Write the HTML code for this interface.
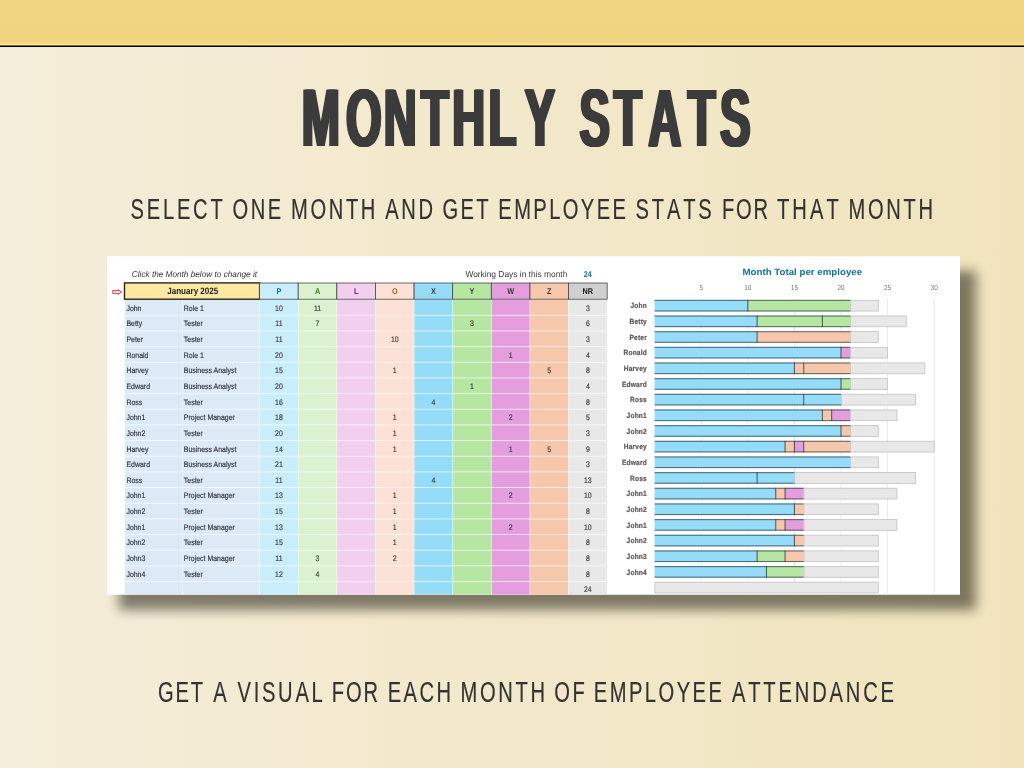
<!DOCTYPE html>
<html lang="en">
<head>
<meta charset="utf-8">
<title>Monthly Stats</title>
<style>
html,body{margin:0;padding:0;}
body{width:1024px;height:768px;overflow:hidden;position:relative;
 background:linear-gradient(90deg,#F4EDD9 0%,#F2E8CA 50%,#F1E4BD 100%);
 font-family:"Liberation Sans",sans-serif;}
.band{position:absolute;left:0;top:0;width:1024px;height:45px;background:linear-gradient(180deg,#F1D582 0px,#F0D480 42px,#F8DC89 43.5px,#FCE18D 45px);}
.rule{position:absolute;left:0;top:45px;width:1024px;height:2px;background:linear-gradient(180deg,#7d6f42 0,#7d6f42 1px,#000 1px,#000 2px);}
.heads{position:absolute;left:0;top:0;display:block;font-family:"Liberation Sans",sans-serif;font-kerning:none;}
.shadow{position:absolute;left:118.5px;top:271px;width:857.5px;height:339px;background:rgba(12,10,0,.5);filter:blur(6px);}
.panel{position:absolute;display:block;}
</style>
</head>
<body>
<div class="band"></div>
<div class="rule"></div>
<svg class="heads" width="1024" height="768" viewBox="0 0 1024 768">
<text class="title" transform="translate(0 146) scale(0.5613 1)" x="537.73 616.76 683.66 749.97 805.78 870.64 934.82 964.82 1032.36 1093.73 1155.1 1225.3 1283.05" y="0" font-size="81" font-weight="700" fill="#3b3b3b" style="text-shadow:2.27px 0 0 #3b3b3b,-2.27px 0 0 #3b3b3b,1.14px 0 0 #3b3b3b,-1.14px 0 0 #3b3b3b">MONTHLY STATS</text>
<text class="line" transform="translate(0 218.9) scale(0.7 1)" x="186.39 209.56 232.73 252.71 275.88 300.64 319.23 332.22 358.21 382.6 402.81 415.64 443.41 469.59 494.17 515.54 537.34 550.23 573.33 598.02 619.82 632.27 657.84 680.21 698.8 711.92 734.54 761.94 784.56 803.98 829.79 852.41 875.03 895.24 907.96 931.2 952.82 976.06 997.69 1017.9 1031.35 1051.55 1076.56 1098.36 1109.94 1131.9 1157.06 1180.64 1199.23 1212.07 1239.91 1266.16 1290.81 1312.25" y="0" font-size="28.8" fill="#333" stroke="#333" stroke-width="0.18">SELECT ONE MONTH AND GET EMPLOYEE STATS FOR THAT MONTH</text>
<text class="line" transform="translate(0 702.3) scale(0.7 1)" x="225.56 250.55 272.35 290.94 304.75 324.96 339.28 362.37 374.24 397.33 422 445.08 462.1 474.07 494.34 519.42 541.22 553.78 576.55 599.32 623.68 645.48 657.92 685.69 711.88 736.45 757.82 779.62 791.93 817.84 836.43 848.21 870.95 898.47 921.21 940.76 966.69 989.43 1012.17 1032.38 1045.66 1068.89 1090.51 1112.12 1135.36 1160.18 1185.01 1208.24 1233.06 1257.89" y="0" font-size="28.8" fill="#333" stroke="#333" stroke-width="0.18">GET A VISUAL FOR EACH MONTH OF EMPLOYEE ATTENDANCE</text>
</svg>
<div class="shadow"></div>
<svg class="panel" width="880" height="360" viewBox="100 250 880 360" style="left:100px;top:250px">
<rect x="107" y="256.5" width="853" height="338" fill="#fff"/>
<defs><filter id="soft" x="107" y="256.5" width="853" height="338" filterUnits="userSpaceOnUse" color-interpolation-filters="sRGB"><feGaussianBlur stdDeviation="0.35"/></filter></defs>
<g filter="url(#soft)" text-rendering="geometricPrecision">
<rect x="107" y="256.5" width="853" height="338" fill="#fff"/>
<rect x="124.9" y="299.6" width="134.7" height="294.9" fill="#DCEAF7"/>
<rect x="259.6" y="299.6" width="38.62" height="294.9" fill="#CAEDFB"/>
<rect x="298.22" y="299.6" width="38.62" height="294.9" fill="#DAF2D0"/>
<rect x="336.84" y="299.6" width="38.62" height="294.9" fill="#F2CEEF"/>
<rect x="375.46" y="299.6" width="38.62" height="294.9" fill="#FBE2D5"/>
<rect x="414.08" y="299.6" width="38.62" height="294.9" fill="#94DCF8"/>
<rect x="452.7" y="299.6" width="38.62" height="294.9" fill="#B5E6A2"/>
<rect x="491.32" y="299.6" width="38.62" height="294.9" fill="#E49EDD"/>
<rect x="529.94" y="299.6" width="38.62" height="294.9" fill="#F7C7AC"/>
<rect x="568.56" y="299.6" width="38.62" height="294.9" fill="#E8E8E8"/>
<rect x="124.9" y="314.85" width="482.28" height="0.9" fill="#fff" opacity="0.75"/>
<rect x="124.9" y="330.51" width="482.28" height="0.9" fill="#fff" opacity="0.75"/>
<rect x="124.9" y="346.17" width="482.28" height="0.9" fill="#fff" opacity="0.75"/>
<rect x="124.9" y="361.83" width="482.28" height="0.9" fill="#fff" opacity="0.75"/>
<rect x="124.9" y="377.49" width="482.28" height="0.9" fill="#fff" opacity="0.75"/>
<rect x="124.9" y="393.15" width="482.28" height="0.9" fill="#fff" opacity="0.75"/>
<rect x="124.9" y="408.81" width="482.28" height="0.9" fill="#fff" opacity="0.75"/>
<rect x="124.9" y="424.47" width="482.28" height="0.9" fill="#fff" opacity="0.75"/>
<rect x="124.9" y="440.13" width="482.28" height="0.9" fill="#fff" opacity="0.75"/>
<rect x="124.9" y="455.79" width="482.28" height="0.9" fill="#fff" opacity="0.75"/>
<rect x="124.9" y="471.45" width="482.28" height="0.9" fill="#fff" opacity="0.75"/>
<rect x="124.9" y="487.11" width="482.28" height="0.9" fill="#fff" opacity="0.75"/>
<rect x="124.9" y="502.77" width="482.28" height="0.9" fill="#fff" opacity="0.75"/>
<rect x="124.9" y="518.43" width="482.28" height="0.9" fill="#fff" opacity="0.75"/>
<rect x="124.9" y="534.09" width="482.28" height="0.9" fill="#fff" opacity="0.75"/>
<rect x="124.9" y="549.75" width="482.28" height="0.9" fill="#fff" opacity="0.75"/>
<rect x="124.9" y="565.41" width="482.28" height="0.9" fill="#fff" opacity="0.75"/>
<rect x="124.9" y="581.07" width="482.28" height="0.9" fill="#fff" opacity="0.75"/>
<rect x="181.9" y="299.6" width="0.8" height="294.9" fill="#fff" opacity="0.6"/>
<rect x="259.2" y="299.6" width="0.8" height="294.9" fill="#fff" opacity="0.6"/>
<rect x="297.82" y="299.6" width="0.8" height="294.9" fill="#fff" opacity="0.6"/>
<rect x="336.44" y="299.6" width="0.8" height="294.9" fill="#fff" opacity="0.6"/>
<rect x="375.06" y="299.6" width="0.8" height="294.9" fill="#fff" opacity="0.6"/>
<rect x="413.68" y="299.6" width="0.8" height="294.9" fill="#fff" opacity="0.6"/>
<rect x="452.3" y="299.6" width="0.8" height="294.9" fill="#fff" opacity="0.6"/>
<rect x="490.92" y="299.6" width="0.8" height="294.9" fill="#fff" opacity="0.6"/>
<rect x="529.54" y="299.6" width="0.8" height="294.9" fill="#fff" opacity="0.6"/>
<rect x="568.16" y="299.6" width="0.8" height="294.9" fill="#fff" opacity="0.6"/>
<rect x="124.5" y="282.9" width="135.1" height="16.3" fill="#FFE8A2" stroke="#2b2618" stroke-width="1.4"/>
<rect x="259.6" y="283" width="38.62" height="16.2" fill="#CAEDFB" stroke="#484848" stroke-width="0.8"/>
<rect x="298.22" y="283" width="38.62" height="16.2" fill="#DAF2D0" stroke="#484848" stroke-width="0.8"/>
<rect x="336.84" y="283" width="38.62" height="16.2" fill="#F2CEEF" stroke="#484848" stroke-width="0.8"/>
<rect x="375.46" y="283" width="38.62" height="16.2" fill="#FBE2D5" stroke="#484848" stroke-width="0.8"/>
<rect x="414.08" y="283" width="38.62" height="16.2" fill="#94DCF8" stroke="#484848" stroke-width="0.8"/>
<rect x="452.7" y="283" width="38.62" height="16.2" fill="#B5E6A2" stroke="#484848" stroke-width="0.8"/>
<rect x="491.32" y="283" width="38.62" height="16.2" fill="#E49EDD" stroke="#484848" stroke-width="0.8"/>
<rect x="529.94" y="283" width="38.62" height="16.2" fill="#F7C7AC" stroke="#484848" stroke-width="0.8"/>
<rect x="568.56" y="283" width="38.62" height="16.2" fill="#D0D0D0" stroke="#484848" stroke-width="0.8"/>
<g font-family="'Liberation Sans', sans-serif" stroke-width="1.6" paint-order="stroke">
<text transform="translate(131.8 276.7) scale(0.0967 0.1)" font-size="85" text-anchor="start" fill="#333" font-weight="400" font-style="italic">Click the Month below to change it</text>
<text transform="translate(465.4 276.6) scale(0.0975 0.1)" font-size="86" text-anchor="start" fill="#3a3a3a" font-weight="400">Working Days in this month</text>
<text transform="translate(587.7 276.6) scale(0.0870 0.1)" font-size="84" text-anchor="middle" fill="#0B76A0" font-weight="700">24</text>
<text transform="translate(192.75 294.4) scale(0.0867 0.1)" font-size="93" text-anchor="middle" fill="#222" font-weight="700">January 2025</text>
<text transform="translate(278.91 294.4) scale(0.0870 0.1)" font-size="84" text-anchor="middle" fill="#0B76A0" font-weight="700">P</text>
<text transform="translate(317.53 294.4) scale(0.0870 0.1)" font-size="84" text-anchor="middle" fill="#3A7C22" font-weight="700">A</text>
<text transform="translate(356.15 294.4) scale(0.0870 0.1)" font-size="84" text-anchor="middle" fill="#782170" font-weight="700">L</text>
<text transform="translate(394.77 294.4) scale(0.0870 0.1)" font-size="84" text-anchor="middle" fill="#BE5014" font-weight="700">O</text>
<text transform="translate(433.39 294.4) scale(0.0870 0.1)" font-size="84" text-anchor="middle" fill="#3a3a3a" font-weight="700">X</text>
<text transform="translate(472.01 294.4) scale(0.0870 0.1)" font-size="84" text-anchor="middle" fill="#3a3a3a" font-weight="700">Y</text>
<text transform="translate(510.63 294.4) scale(0.0870 0.1)" font-size="84" text-anchor="middle" fill="#3a3a3a" font-weight="700">W</text>
<text transform="translate(549.25 294.4) scale(0.0870 0.1)" font-size="84" text-anchor="middle" fill="#3a3a3a" font-weight="700">Z</text>
<text transform="translate(587.87 294.4) scale(0.0870 0.1)" font-size="84" text-anchor="middle" fill="#111" font-weight="700">NR</text>
<text transform="translate(126.4 310.6) scale(0.0870 0.1)" font-size="80" text-anchor="start" fill="#30303a" font-weight="400" stroke="#30303a">John</text>
<text transform="translate(183.8 310.6) scale(0.0870 0.1)" font-size="80" text-anchor="start" fill="#30303a" font-weight="400" stroke="#30303a">Role 1</text>
<text transform="translate(278.91 310.6) scale(0.0870 0.1)" font-size="80" text-anchor="middle" fill="#3a3a3a" font-weight="400" stroke="#3a3a3a">10</text>
<text transform="translate(317.53 310.6) scale(0.0870 0.1)" font-size="80" text-anchor="middle" fill="#3a3a3a" font-weight="400" stroke="#3a3a3a">11</text>
<text transform="translate(587.87 310.6) scale(0.0870 0.1)" font-size="80" text-anchor="middle" fill="#3a3a3a" font-weight="400" stroke="#3a3a3a">3</text>
<text transform="translate(126.4 326.25) scale(0.0870 0.1)" font-size="80" text-anchor="start" fill="#30303a" font-weight="400" stroke="#30303a">Betty</text>
<text transform="translate(183.8 326.25) scale(0.0870 0.1)" font-size="80" text-anchor="start" fill="#30303a" font-weight="400" stroke="#30303a">Tester</text>
<text transform="translate(278.91 326.25) scale(0.0870 0.1)" font-size="80" text-anchor="middle" fill="#3a3a3a" font-weight="400" stroke="#3a3a3a">11</text>
<text transform="translate(317.53 326.25) scale(0.0870 0.1)" font-size="80" text-anchor="middle" fill="#3a3a3a" font-weight="400" stroke="#3a3a3a">7</text>
<text transform="translate(472.01 326.25) scale(0.0870 0.1)" font-size="80" text-anchor="middle" fill="#3a3a3a" font-weight="400" stroke="#3a3a3a">3</text>
<text transform="translate(587.87 326.25) scale(0.0870 0.1)" font-size="80" text-anchor="middle" fill="#3a3a3a" font-weight="400" stroke="#3a3a3a">6</text>
<text transform="translate(126.4 341.91) scale(0.0870 0.1)" font-size="80" text-anchor="start" fill="#30303a" font-weight="400" stroke="#30303a">Peter</text>
<text transform="translate(183.8 341.91) scale(0.0870 0.1)" font-size="80" text-anchor="start" fill="#30303a" font-weight="400" stroke="#30303a">Tester</text>
<text transform="translate(278.91 341.91) scale(0.0870 0.1)" font-size="80" text-anchor="middle" fill="#3a3a3a" font-weight="400" stroke="#3a3a3a">11</text>
<text transform="translate(394.77 341.91) scale(0.0870 0.1)" font-size="80" text-anchor="middle" fill="#3a3a3a" font-weight="400" stroke="#3a3a3a">10</text>
<text transform="translate(587.87 341.91) scale(0.0870 0.1)" font-size="80" text-anchor="middle" fill="#3a3a3a" font-weight="400" stroke="#3a3a3a">3</text>
<text transform="translate(126.4 357.56) scale(0.0870 0.1)" font-size="80" text-anchor="start" fill="#30303a" font-weight="400" stroke="#30303a">Ronald</text>
<text transform="translate(183.8 357.56) scale(0.0870 0.1)" font-size="80" text-anchor="start" fill="#30303a" font-weight="400" stroke="#30303a">Role 1</text>
<text transform="translate(278.91 357.56) scale(0.0870 0.1)" font-size="80" text-anchor="middle" fill="#3a3a3a" font-weight="400" stroke="#3a3a3a">20</text>
<text transform="translate(510.63 357.56) scale(0.0870 0.1)" font-size="80" text-anchor="middle" fill="#3a3a3a" font-weight="400" stroke="#3a3a3a">1</text>
<text transform="translate(587.87 357.56) scale(0.0870 0.1)" font-size="80" text-anchor="middle" fill="#3a3a3a" font-weight="400" stroke="#3a3a3a">4</text>
<text transform="translate(126.4 373.22) scale(0.0870 0.1)" font-size="80" text-anchor="start" fill="#30303a" font-weight="400" stroke="#30303a">Harvey</text>
<text transform="translate(183.8 373.22) scale(0.0870 0.1)" font-size="80" text-anchor="start" fill="#30303a" font-weight="400" stroke="#30303a">Business Analyst</text>
<text transform="translate(278.91 373.22) scale(0.0870 0.1)" font-size="80" text-anchor="middle" fill="#3a3a3a" font-weight="400" stroke="#3a3a3a">15</text>
<text transform="translate(394.77 373.22) scale(0.0870 0.1)" font-size="80" text-anchor="middle" fill="#3a3a3a" font-weight="400" stroke="#3a3a3a">1</text>
<text transform="translate(549.25 373.22) scale(0.0870 0.1)" font-size="80" text-anchor="middle" fill="#3a3a3a" font-weight="400" stroke="#3a3a3a">5</text>
<text transform="translate(587.87 373.22) scale(0.0870 0.1)" font-size="80" text-anchor="middle" fill="#3a3a3a" font-weight="400" stroke="#3a3a3a">8</text>
<text transform="translate(126.4 388.88) scale(0.0870 0.1)" font-size="80" text-anchor="start" fill="#30303a" font-weight="400" stroke="#30303a">Edward</text>
<text transform="translate(183.8 388.88) scale(0.0870 0.1)" font-size="80" text-anchor="start" fill="#30303a" font-weight="400" stroke="#30303a">Business Analyst</text>
<text transform="translate(278.91 388.88) scale(0.0870 0.1)" font-size="80" text-anchor="middle" fill="#3a3a3a" font-weight="400" stroke="#3a3a3a">20</text>
<text transform="translate(472.01 388.88) scale(0.0870 0.1)" font-size="80" text-anchor="middle" fill="#3a3a3a" font-weight="400" stroke="#3a3a3a">1</text>
<text transform="translate(587.87 388.88) scale(0.0870 0.1)" font-size="80" text-anchor="middle" fill="#3a3a3a" font-weight="400" stroke="#3a3a3a">4</text>
<text transform="translate(126.4 404.53) scale(0.0870 0.1)" font-size="80" text-anchor="start" fill="#30303a" font-weight="400" stroke="#30303a">Ross</text>
<text transform="translate(183.8 404.53) scale(0.0870 0.1)" font-size="80" text-anchor="start" fill="#30303a" font-weight="400" stroke="#30303a">Tester</text>
<text transform="translate(278.91 404.53) scale(0.0870 0.1)" font-size="80" text-anchor="middle" fill="#3a3a3a" font-weight="400" stroke="#3a3a3a">16</text>
<text transform="translate(433.39 404.53) scale(0.0870 0.1)" font-size="80" text-anchor="middle" fill="#3a3a3a" font-weight="400" stroke="#3a3a3a">4</text>
<text transform="translate(587.87 404.53) scale(0.0870 0.1)" font-size="80" text-anchor="middle" fill="#3a3a3a" font-weight="400" stroke="#3a3a3a">8</text>
<text transform="translate(126.4 420.19) scale(0.0870 0.1)" font-size="80" text-anchor="start" fill="#30303a" font-weight="400" stroke="#30303a">John1</text>
<text transform="translate(183.8 420.19) scale(0.0870 0.1)" font-size="80" text-anchor="start" fill="#30303a" font-weight="400" stroke="#30303a">Project Manager</text>
<text transform="translate(278.91 420.19) scale(0.0870 0.1)" font-size="80" text-anchor="middle" fill="#3a3a3a" font-weight="400" stroke="#3a3a3a">18</text>
<text transform="translate(394.77 420.19) scale(0.0870 0.1)" font-size="80" text-anchor="middle" fill="#3a3a3a" font-weight="400" stroke="#3a3a3a">1</text>
<text transform="translate(510.63 420.19) scale(0.0870 0.1)" font-size="80" text-anchor="middle" fill="#3a3a3a" font-weight="400" stroke="#3a3a3a">2</text>
<text transform="translate(587.87 420.19) scale(0.0870 0.1)" font-size="80" text-anchor="middle" fill="#3a3a3a" font-weight="400" stroke="#3a3a3a">5</text>
<text transform="translate(126.4 435.84) scale(0.0870 0.1)" font-size="80" text-anchor="start" fill="#30303a" font-weight="400" stroke="#30303a">John2</text>
<text transform="translate(183.8 435.84) scale(0.0870 0.1)" font-size="80" text-anchor="start" fill="#30303a" font-weight="400" stroke="#30303a">Tester</text>
<text transform="translate(278.91 435.84) scale(0.0870 0.1)" font-size="80" text-anchor="middle" fill="#3a3a3a" font-weight="400" stroke="#3a3a3a">20</text>
<text transform="translate(394.77 435.84) scale(0.0870 0.1)" font-size="80" text-anchor="middle" fill="#3a3a3a" font-weight="400" stroke="#3a3a3a">1</text>
<text transform="translate(587.87 435.84) scale(0.0870 0.1)" font-size="80" text-anchor="middle" fill="#3a3a3a" font-weight="400" stroke="#3a3a3a">3</text>
<text transform="translate(126.4 451.5) scale(0.0870 0.1)" font-size="80" text-anchor="start" fill="#30303a" font-weight="400" stroke="#30303a">Harvey</text>
<text transform="translate(183.8 451.5) scale(0.0870 0.1)" font-size="80" text-anchor="start" fill="#30303a" font-weight="400" stroke="#30303a">Business Analyst</text>
<text transform="translate(278.91 451.5) scale(0.0870 0.1)" font-size="80" text-anchor="middle" fill="#3a3a3a" font-weight="400" stroke="#3a3a3a">14</text>
<text transform="translate(394.77 451.5) scale(0.0870 0.1)" font-size="80" text-anchor="middle" fill="#3a3a3a" font-weight="400" stroke="#3a3a3a">1</text>
<text transform="translate(510.63 451.5) scale(0.0870 0.1)" font-size="80" text-anchor="middle" fill="#3a3a3a" font-weight="400" stroke="#3a3a3a">1</text>
<text transform="translate(549.25 451.5) scale(0.0870 0.1)" font-size="80" text-anchor="middle" fill="#3a3a3a" font-weight="400" stroke="#3a3a3a">5</text>
<text transform="translate(587.87 451.5) scale(0.0870 0.1)" font-size="80" text-anchor="middle" fill="#3a3a3a" font-weight="400" stroke="#3a3a3a">9</text>
<text transform="translate(126.4 467.15) scale(0.0870 0.1)" font-size="80" text-anchor="start" fill="#30303a" font-weight="400" stroke="#30303a">Edward</text>
<text transform="translate(183.8 467.15) scale(0.0870 0.1)" font-size="80" text-anchor="start" fill="#30303a" font-weight="400" stroke="#30303a">Business Analyst</text>
<text transform="translate(278.91 467.15) scale(0.0870 0.1)" font-size="80" text-anchor="middle" fill="#3a3a3a" font-weight="400" stroke="#3a3a3a">21</text>
<text transform="translate(587.87 467.15) scale(0.0870 0.1)" font-size="80" text-anchor="middle" fill="#3a3a3a" font-weight="400" stroke="#3a3a3a">3</text>
<text transform="translate(126.4 482.81) scale(0.0870 0.1)" font-size="80" text-anchor="start" fill="#30303a" font-weight="400" stroke="#30303a">Ross</text>
<text transform="translate(183.8 482.81) scale(0.0870 0.1)" font-size="80" text-anchor="start" fill="#30303a" font-weight="400" stroke="#30303a">Tester</text>
<text transform="translate(278.91 482.81) scale(0.0870 0.1)" font-size="80" text-anchor="middle" fill="#3a3a3a" font-weight="400" stroke="#3a3a3a">11</text>
<text transform="translate(433.39 482.81) scale(0.0870 0.1)" font-size="80" text-anchor="middle" fill="#3a3a3a" font-weight="400" stroke="#3a3a3a">4</text>
<text transform="translate(587.87 482.81) scale(0.0870 0.1)" font-size="80" text-anchor="middle" fill="#3a3a3a" font-weight="400" stroke="#3a3a3a">13</text>
<text transform="translate(126.4 498.46) scale(0.0870 0.1)" font-size="80" text-anchor="start" fill="#30303a" font-weight="400" stroke="#30303a">John1</text>
<text transform="translate(183.8 498.46) scale(0.0870 0.1)" font-size="80" text-anchor="start" fill="#30303a" font-weight="400" stroke="#30303a">Project Manager</text>
<text transform="translate(278.91 498.46) scale(0.0870 0.1)" font-size="80" text-anchor="middle" fill="#3a3a3a" font-weight="400" stroke="#3a3a3a">13</text>
<text transform="translate(394.77 498.46) scale(0.0870 0.1)" font-size="80" text-anchor="middle" fill="#3a3a3a" font-weight="400" stroke="#3a3a3a">1</text>
<text transform="translate(510.63 498.46) scale(0.0870 0.1)" font-size="80" text-anchor="middle" fill="#3a3a3a" font-weight="400" stroke="#3a3a3a">2</text>
<text transform="translate(587.87 498.46) scale(0.0870 0.1)" font-size="80" text-anchor="middle" fill="#3a3a3a" font-weight="400" stroke="#3a3a3a">10</text>
<text transform="translate(126.4 514.12) scale(0.0870 0.1)" font-size="80" text-anchor="start" fill="#30303a" font-weight="400" stroke="#30303a">John2</text>
<text transform="translate(183.8 514.12) scale(0.0870 0.1)" font-size="80" text-anchor="start" fill="#30303a" font-weight="400" stroke="#30303a">Tester</text>
<text transform="translate(278.91 514.12) scale(0.0870 0.1)" font-size="80" text-anchor="middle" fill="#3a3a3a" font-weight="400" stroke="#3a3a3a">15</text>
<text transform="translate(394.77 514.12) scale(0.0870 0.1)" font-size="80" text-anchor="middle" fill="#3a3a3a" font-weight="400" stroke="#3a3a3a">1</text>
<text transform="translate(587.87 514.12) scale(0.0870 0.1)" font-size="80" text-anchor="middle" fill="#3a3a3a" font-weight="400" stroke="#3a3a3a">8</text>
<text transform="translate(126.4 529.77) scale(0.0870 0.1)" font-size="80" text-anchor="start" fill="#30303a" font-weight="400" stroke="#30303a">John1</text>
<text transform="translate(183.8 529.77) scale(0.0870 0.1)" font-size="80" text-anchor="start" fill="#30303a" font-weight="400" stroke="#30303a">Project Manager</text>
<text transform="translate(278.91 529.77) scale(0.0870 0.1)" font-size="80" text-anchor="middle" fill="#3a3a3a" font-weight="400" stroke="#3a3a3a">13</text>
<text transform="translate(394.77 529.77) scale(0.0870 0.1)" font-size="80" text-anchor="middle" fill="#3a3a3a" font-weight="400" stroke="#3a3a3a">1</text>
<text transform="translate(510.63 529.77) scale(0.0870 0.1)" font-size="80" text-anchor="middle" fill="#3a3a3a" font-weight="400" stroke="#3a3a3a">2</text>
<text transform="translate(587.87 529.77) scale(0.0870 0.1)" font-size="80" text-anchor="middle" fill="#3a3a3a" font-weight="400" stroke="#3a3a3a">10</text>
<text transform="translate(126.4 545.42) scale(0.0870 0.1)" font-size="80" text-anchor="start" fill="#30303a" font-weight="400" stroke="#30303a">John2</text>
<text transform="translate(183.8 545.42) scale(0.0870 0.1)" font-size="80" text-anchor="start" fill="#30303a" font-weight="400" stroke="#30303a">Tester</text>
<text transform="translate(278.91 545.42) scale(0.0870 0.1)" font-size="80" text-anchor="middle" fill="#3a3a3a" font-weight="400" stroke="#3a3a3a">15</text>
<text transform="translate(394.77 545.42) scale(0.0870 0.1)" font-size="80" text-anchor="middle" fill="#3a3a3a" font-weight="400" stroke="#3a3a3a">1</text>
<text transform="translate(587.87 545.42) scale(0.0870 0.1)" font-size="80" text-anchor="middle" fill="#3a3a3a" font-weight="400" stroke="#3a3a3a">8</text>
<text transform="translate(126.4 561.08) scale(0.0870 0.1)" font-size="80" text-anchor="start" fill="#30303a" font-weight="400" stroke="#30303a">John3</text>
<text transform="translate(183.8 561.08) scale(0.0870 0.1)" font-size="80" text-anchor="start" fill="#30303a" font-weight="400" stroke="#30303a">Project Manager</text>
<text transform="translate(278.91 561.08) scale(0.0870 0.1)" font-size="80" text-anchor="middle" fill="#3a3a3a" font-weight="400" stroke="#3a3a3a">11</text>
<text transform="translate(317.53 561.08) scale(0.0870 0.1)" font-size="80" text-anchor="middle" fill="#3a3a3a" font-weight="400" stroke="#3a3a3a">3</text>
<text transform="translate(394.77 561.08) scale(0.0870 0.1)" font-size="80" text-anchor="middle" fill="#3a3a3a" font-weight="400" stroke="#3a3a3a">2</text>
<text transform="translate(587.87 561.08) scale(0.0870 0.1)" font-size="80" text-anchor="middle" fill="#3a3a3a" font-weight="400" stroke="#3a3a3a">8</text>
<text transform="translate(126.4 576.74) scale(0.0870 0.1)" font-size="80" text-anchor="start" fill="#30303a" font-weight="400" stroke="#30303a">John4</text>
<text transform="translate(183.8 576.74) scale(0.0870 0.1)" font-size="80" text-anchor="start" fill="#30303a" font-weight="400" stroke="#30303a">Tester</text>
<text transform="translate(278.91 576.74) scale(0.0870 0.1)" font-size="80" text-anchor="middle" fill="#3a3a3a" font-weight="400" stroke="#3a3a3a">12</text>
<text transform="translate(317.53 576.74) scale(0.0870 0.1)" font-size="80" text-anchor="middle" fill="#3a3a3a" font-weight="400" stroke="#3a3a3a">4</text>
<text transform="translate(587.87 576.74) scale(0.0870 0.1)" font-size="80" text-anchor="middle" fill="#3a3a3a" font-weight="400" stroke="#3a3a3a">8</text>
<text transform="translate(587.87 592.39) scale(0.0870 0.1)" font-size="80" text-anchor="middle" fill="#3a3a3a" font-weight="400" stroke="#3a3a3a">24</text>
</g>
<path d="M112.8 290.6h5.4v-1l3.2 2.4-3.2 2.4v-1h-5.4z" fill="#fff" stroke="#e4525c" stroke-width="1.05" stroke-linejoin="round"/>
<g font-family="'Liberation Sans', sans-serif">
<text transform="translate(802.3 275.2) scale(0.1045 0.1)" font-size="93" text-anchor="middle" fill="#14709E" font-weight="700">Month Total per employee</text>
<rect x="700.8" y="298.5" width="0.8" height="296" fill="#e6e6e6"/>
<text transform="translate(701.2 289.9) scale(0.0900 0.1)" font-size="72" text-anchor="middle" fill="#777" font-weight="400">5</text>
<rect x="747.4" y="298.5" width="0.8" height="296" fill="#e6e6e6"/>
<text transform="translate(747.8 289.9) scale(0.0900 0.1)" font-size="72" text-anchor="middle" fill="#777" font-weight="400">10</text>
<rect x="794" y="298.5" width="0.8" height="296" fill="#e6e6e6"/>
<text transform="translate(794.4 289.9) scale(0.0900 0.1)" font-size="72" text-anchor="middle" fill="#777" font-weight="400">15</text>
<rect x="840.6" y="298.5" width="0.8" height="296" fill="#e6e6e6"/>
<text transform="translate(841 289.9) scale(0.0900 0.1)" font-size="72" text-anchor="middle" fill="#777" font-weight="400">20</text>
<rect x="887.2" y="298.5" width="0.8" height="296" fill="#e6e6e6"/>
<text transform="translate(887.6 289.9) scale(0.0900 0.1)" font-size="72" text-anchor="middle" fill="#777" font-weight="400">25</text>
<rect x="933.8" y="298.5" width="0.8" height="296" fill="#e6e6e6"/>
<text transform="translate(934.2 289.9) scale(0.0900 0.1)" font-size="72" text-anchor="middle" fill="#777" font-weight="400">30</text>
<rect x="654.6" y="299.9" width="93.2" height="11.5" fill="#94DCF8"/>
<rect x="747.8" y="299.9" width="102.52" height="11.5" fill="#B5E6A2"/>
<rect x="850.62" y="300.3" width="27.66" height="10.8" fill="#E8E8E8" stroke="#c2c2c2" stroke-width="0.8"/>
<rect x="654.6" y="299.8" width="195.72" height="1.15" fill="#1c2c38" opacity="0.6"/>
<rect x="654.6" y="310.4" width="195.72" height="1.15" fill="#1c2c38" opacity="0.6"/>
<rect x="747.3" y="299.9" width="1" height="11.5" fill="#1c262c" opacity="0.75"/>
<text transform="translate(646.9 308.4) scale(0.0880 0.1)" font-size="75" text-anchor="end" fill="#5a5a5a" font-weight="700" stroke="#5a5a5a" stroke-width="2.2" letter-spacing="2">John</text>
<rect x="654.6" y="315.56" width="102.52" height="11.5" fill="#94DCF8"/>
<rect x="757.12" y="315.56" width="65.24" height="11.5" fill="#B5E6A2"/>
<rect x="822.36" y="315.56" width="27.96" height="11.5" fill="#B5E6A2"/>
<rect x="850.62" y="315.96" width="55.62" height="10.8" fill="#E8E8E8" stroke="#c2c2c2" stroke-width="0.8"/>
<rect x="654.6" y="315.46" width="195.72" height="1.15" fill="#1c2c38" opacity="0.6"/>
<rect x="654.6" y="326.06" width="195.72" height="1.15" fill="#1c2c38" opacity="0.6"/>
<rect x="756.62" y="315.56" width="1" height="11.5" fill="#1c262c" opacity="0.75"/>
<rect x="821.86" y="315.56" width="1" height="11.5" fill="#1c262c" opacity="0.75"/>
<text transform="translate(646.9 324.05) scale(0.0880 0.1)" font-size="75" text-anchor="end" fill="#5a5a5a" font-weight="700" stroke="#5a5a5a" stroke-width="2.2" letter-spacing="2">Betty</text>
<rect x="654.6" y="331.22" width="102.52" height="11.5" fill="#94DCF8"/>
<rect x="757.12" y="331.22" width="93.2" height="11.5" fill="#F7C7AC"/>
<rect x="850.62" y="331.62" width="27.66" height="10.8" fill="#E8E8E8" stroke="#c2c2c2" stroke-width="0.8"/>
<rect x="654.6" y="331.12" width="195.72" height="1.15" fill="#1c2c38" opacity="0.6"/>
<rect x="654.6" y="341.72" width="195.72" height="1.15" fill="#1c2c38" opacity="0.6"/>
<rect x="756.62" y="331.22" width="1" height="11.5" fill="#1c262c" opacity="0.75"/>
<text transform="translate(646.9 339.71) scale(0.0880 0.1)" font-size="75" text-anchor="end" fill="#5a5a5a" font-weight="700" stroke="#5a5a5a" stroke-width="2.2" letter-spacing="2">Peter</text>
<rect x="654.6" y="346.88" width="186.4" height="11.5" fill="#94DCF8"/>
<rect x="841" y="346.88" width="9.32" height="11.5" fill="#E49EDD"/>
<rect x="850.62" y="347.28" width="36.98" height="10.8" fill="#E8E8E8" stroke="#c2c2c2" stroke-width="0.8"/>
<rect x="654.6" y="346.78" width="195.72" height="1.15" fill="#1c2c38" opacity="0.6"/>
<rect x="654.6" y="357.38" width="195.72" height="1.15" fill="#1c2c38" opacity="0.6"/>
<rect x="840.5" y="346.88" width="1" height="11.5" fill="#1c262c" opacity="0.75"/>
<text transform="translate(646.9 355.36) scale(0.0880 0.1)" font-size="75" text-anchor="end" fill="#5a5a5a" font-weight="700" stroke="#5a5a5a" stroke-width="2.2" letter-spacing="2">Ronald</text>
<rect x="654.6" y="362.54" width="139.8" height="11.5" fill="#94DCF8"/>
<rect x="794.4" y="362.54" width="9.32" height="11.5" fill="#F7C7AC"/>
<rect x="803.72" y="362.54" width="46.6" height="11.5" fill="#F7C7AC"/>
<rect x="850.62" y="362.94" width="74.26" height="10.8" fill="#E8E8E8" stroke="#c2c2c2" stroke-width="0.8"/>
<rect x="654.6" y="362.44" width="195.72" height="1.15" fill="#1c2c38" opacity="0.6"/>
<rect x="654.6" y="373.04" width="195.72" height="1.15" fill="#1c2c38" opacity="0.6"/>
<rect x="793.9" y="362.54" width="1" height="11.5" fill="#1c262c" opacity="0.75"/>
<rect x="803.22" y="362.54" width="1" height="11.5" fill="#1c262c" opacity="0.75"/>
<text transform="translate(646.9 371.02) scale(0.0880 0.1)" font-size="75" text-anchor="end" fill="#5a5a5a" font-weight="700" stroke="#5a5a5a" stroke-width="2.2" letter-spacing="2">Harvey</text>
<rect x="654.6" y="378.2" width="186.4" height="11.5" fill="#94DCF8"/>
<rect x="841" y="378.2" width="9.32" height="11.5" fill="#B5E6A2"/>
<rect x="850.62" y="378.6" width="36.98" height="10.8" fill="#E8E8E8" stroke="#c2c2c2" stroke-width="0.8"/>
<rect x="654.6" y="378.1" width="195.72" height="1.15" fill="#1c2c38" opacity="0.6"/>
<rect x="654.6" y="388.7" width="195.72" height="1.15" fill="#1c2c38" opacity="0.6"/>
<rect x="840.5" y="378.2" width="1" height="11.5" fill="#1c262c" opacity="0.75"/>
<text transform="translate(646.9 386.67) scale(0.0880 0.1)" font-size="75" text-anchor="end" fill="#5a5a5a" font-weight="700" stroke="#5a5a5a" stroke-width="2.2" letter-spacing="2">Edward</text>
<rect x="654.6" y="393.86" width="149.12" height="11.5" fill="#94DCF8"/>
<rect x="803.72" y="393.86" width="37.28" height="11.5" fill="#94DCF8"/>
<rect x="841.3" y="394.26" width="74.26" height="10.8" fill="#E8E8E8" stroke="#c2c2c2" stroke-width="0.8"/>
<rect x="654.6" y="393.76" width="186.4" height="1.15" fill="#1c2c38" opacity="0.6"/>
<rect x="654.6" y="404.36" width="186.4" height="1.15" fill="#1c2c38" opacity="0.6"/>
<rect x="803.22" y="393.86" width="1" height="11.5" fill="#1c262c" opacity="0.75"/>
<text transform="translate(646.9 402.33) scale(0.0880 0.1)" font-size="75" text-anchor="end" fill="#5a5a5a" font-weight="700" stroke="#5a5a5a" stroke-width="2.2" letter-spacing="2">Ross</text>
<rect x="654.6" y="409.52" width="167.76" height="11.5" fill="#94DCF8"/>
<rect x="822.36" y="409.52" width="9.32" height="11.5" fill="#F7C7AC"/>
<rect x="831.68" y="409.52" width="18.64" height="11.5" fill="#E49EDD"/>
<rect x="850.62" y="409.92" width="46.3" height="10.8" fill="#E8E8E8" stroke="#c2c2c2" stroke-width="0.8"/>
<rect x="654.6" y="409.42" width="195.72" height="1.15" fill="#1c2c38" opacity="0.6"/>
<rect x="654.6" y="420.02" width="195.72" height="1.15" fill="#1c2c38" opacity="0.6"/>
<rect x="821.86" y="409.52" width="1" height="11.5" fill="#1c262c" opacity="0.75"/>
<rect x="831.18" y="409.52" width="1" height="11.5" fill="#1c262c" opacity="0.75"/>
<text transform="translate(646.9 417.98) scale(0.0880 0.1)" font-size="75" text-anchor="end" fill="#5a5a5a" font-weight="700" stroke="#5a5a5a" stroke-width="2.2" letter-spacing="2">John1</text>
<rect x="654.6" y="425.18" width="186.4" height="11.5" fill="#94DCF8"/>
<rect x="841" y="425.18" width="9.32" height="11.5" fill="#F7C7AC"/>
<rect x="850.62" y="425.58" width="27.66" height="10.8" fill="#E8E8E8" stroke="#c2c2c2" stroke-width="0.8"/>
<rect x="654.6" y="425.08" width="195.72" height="1.15" fill="#1c2c38" opacity="0.6"/>
<rect x="654.6" y="435.68" width="195.72" height="1.15" fill="#1c2c38" opacity="0.6"/>
<rect x="840.5" y="425.18" width="1" height="11.5" fill="#1c262c" opacity="0.75"/>
<text transform="translate(646.9 433.64) scale(0.0880 0.1)" font-size="75" text-anchor="end" fill="#5a5a5a" font-weight="700" stroke="#5a5a5a" stroke-width="2.2" letter-spacing="2">John2</text>
<rect x="654.6" y="440.84" width="130.48" height="11.5" fill="#94DCF8"/>
<rect x="785.08" y="440.84" width="9.32" height="11.5" fill="#F7C7AC"/>
<rect x="794.4" y="440.84" width="9.32" height="11.5" fill="#E49EDD"/>
<rect x="803.72" y="440.84" width="46.6" height="11.5" fill="#F7C7AC"/>
<rect x="850.62" y="441.24" width="83.58" height="10.8" fill="#E8E8E8" stroke="#c2c2c2" stroke-width="0.8"/>
<rect x="654.6" y="440.74" width="195.72" height="1.15" fill="#1c2c38" opacity="0.6"/>
<rect x="654.6" y="451.34" width="195.72" height="1.15" fill="#1c2c38" opacity="0.6"/>
<rect x="784.58" y="440.84" width="1" height="11.5" fill="#1c262c" opacity="0.75"/>
<rect x="793.9" y="440.84" width="1" height="11.5" fill="#1c262c" opacity="0.75"/>
<rect x="803.22" y="440.84" width="1" height="11.5" fill="#1c262c" opacity="0.75"/>
<text transform="translate(646.9 449.29) scale(0.0880 0.1)" font-size="75" text-anchor="end" fill="#5a5a5a" font-weight="700" stroke="#5a5a5a" stroke-width="2.2" letter-spacing="2">Harvey</text>
<rect x="654.6" y="456.5" width="195.72" height="11.5" fill="#94DCF8"/>
<rect x="850.62" y="456.9" width="27.66" height="10.8" fill="#E8E8E8" stroke="#c2c2c2" stroke-width="0.8"/>
<rect x="654.6" y="456.4" width="195.72" height="1.15" fill="#1c2c38" opacity="0.6"/>
<rect x="654.6" y="467" width="195.72" height="1.15" fill="#1c2c38" opacity="0.6"/>
<text transform="translate(646.9 464.95) scale(0.0880 0.1)" font-size="75" text-anchor="end" fill="#5a5a5a" font-weight="700" stroke="#5a5a5a" stroke-width="2.2" letter-spacing="2">Edward</text>
<rect x="654.6" y="472.16" width="102.52" height="11.5" fill="#94DCF8"/>
<rect x="757.12" y="472.16" width="37.28" height="11.5" fill="#94DCF8"/>
<rect x="794.7" y="472.56" width="120.86" height="10.8" fill="#E8E8E8" stroke="#c2c2c2" stroke-width="0.8"/>
<rect x="654.6" y="472.06" width="139.8" height="1.15" fill="#1c2c38" opacity="0.6"/>
<rect x="654.6" y="482.66" width="139.8" height="1.15" fill="#1c2c38" opacity="0.6"/>
<rect x="756.62" y="472.16" width="1" height="11.5" fill="#1c262c" opacity="0.75"/>
<text transform="translate(646.9 480.6) scale(0.0880 0.1)" font-size="75" text-anchor="end" fill="#5a5a5a" font-weight="700" stroke="#5a5a5a" stroke-width="2.2" letter-spacing="2">Ross</text>
<rect x="654.6" y="487.82" width="121.16" height="11.5" fill="#94DCF8"/>
<rect x="775.76" y="487.82" width="9.32" height="11.5" fill="#F7C7AC"/>
<rect x="785.08" y="487.82" width="18.64" height="11.5" fill="#E49EDD"/>
<rect x="804.02" y="488.22" width="92.9" height="10.8" fill="#E8E8E8" stroke="#c2c2c2" stroke-width="0.8"/>
<rect x="654.6" y="487.72" width="149.12" height="1.15" fill="#1c2c38" opacity="0.6"/>
<rect x="654.6" y="498.32" width="149.12" height="1.15" fill="#1c2c38" opacity="0.6"/>
<rect x="775.26" y="487.82" width="1" height="11.5" fill="#1c262c" opacity="0.75"/>
<rect x="784.58" y="487.82" width="1" height="11.5" fill="#1c262c" opacity="0.75"/>
<text transform="translate(646.9 496.26) scale(0.0880 0.1)" font-size="75" text-anchor="end" fill="#5a5a5a" font-weight="700" stroke="#5a5a5a" stroke-width="2.2" letter-spacing="2">John1</text>
<rect x="654.6" y="503.48" width="139.8" height="11.5" fill="#94DCF8"/>
<rect x="794.4" y="503.48" width="9.32" height="11.5" fill="#F7C7AC"/>
<rect x="804.02" y="503.88" width="74.26" height="10.8" fill="#E8E8E8" stroke="#c2c2c2" stroke-width="0.8"/>
<rect x="654.6" y="503.38" width="149.12" height="1.15" fill="#1c2c38" opacity="0.6"/>
<rect x="654.6" y="513.98" width="149.12" height="1.15" fill="#1c2c38" opacity="0.6"/>
<rect x="793.9" y="503.48" width="1" height="11.5" fill="#1c262c" opacity="0.75"/>
<text transform="translate(646.9 511.91) scale(0.0880 0.1)" font-size="75" text-anchor="end" fill="#5a5a5a" font-weight="700" stroke="#5a5a5a" stroke-width="2.2" letter-spacing="2">John2</text>
<rect x="654.6" y="519.14" width="121.16" height="11.5" fill="#94DCF8"/>
<rect x="775.76" y="519.14" width="9.32" height="11.5" fill="#F7C7AC"/>
<rect x="785.08" y="519.14" width="18.64" height="11.5" fill="#E49EDD"/>
<rect x="804.02" y="519.54" width="92.9" height="10.8" fill="#E8E8E8" stroke="#c2c2c2" stroke-width="0.8"/>
<rect x="654.6" y="519.04" width="149.12" height="1.15" fill="#1c2c38" opacity="0.6"/>
<rect x="654.6" y="529.64" width="149.12" height="1.15" fill="#1c2c38" opacity="0.6"/>
<rect x="775.26" y="519.14" width="1" height="11.5" fill="#1c262c" opacity="0.75"/>
<rect x="784.58" y="519.14" width="1" height="11.5" fill="#1c262c" opacity="0.75"/>
<text transform="translate(646.9 527.57) scale(0.0880 0.1)" font-size="75" text-anchor="end" fill="#5a5a5a" font-weight="700" stroke="#5a5a5a" stroke-width="2.2" letter-spacing="2">John1</text>
<rect x="654.6" y="534.8" width="139.8" height="11.5" fill="#94DCF8"/>
<rect x="794.4" y="534.8" width="9.32" height="11.5" fill="#F7C7AC"/>
<rect x="804.02" y="535.2" width="74.26" height="10.8" fill="#E8E8E8" stroke="#c2c2c2" stroke-width="0.8"/>
<rect x="654.6" y="534.7" width="149.12" height="1.15" fill="#1c2c38" opacity="0.6"/>
<rect x="654.6" y="545.3" width="149.12" height="1.15" fill="#1c2c38" opacity="0.6"/>
<rect x="793.9" y="534.8" width="1" height="11.5" fill="#1c262c" opacity="0.75"/>
<text transform="translate(646.9 543.22) scale(0.0880 0.1)" font-size="75" text-anchor="end" fill="#5a5a5a" font-weight="700" stroke="#5a5a5a" stroke-width="2.2" letter-spacing="2">John2</text>
<rect x="654.6" y="550.46" width="102.52" height="11.5" fill="#94DCF8"/>
<rect x="757.12" y="550.46" width="27.96" height="11.5" fill="#B5E6A2"/>
<rect x="785.08" y="550.46" width="18.64" height="11.5" fill="#F7C7AC"/>
<rect x="804.02" y="550.86" width="74.26" height="10.8" fill="#E8E8E8" stroke="#c2c2c2" stroke-width="0.8"/>
<rect x="654.6" y="550.36" width="149.12" height="1.15" fill="#1c2c38" opacity="0.6"/>
<rect x="654.6" y="560.96" width="149.12" height="1.15" fill="#1c2c38" opacity="0.6"/>
<rect x="756.62" y="550.46" width="1" height="11.5" fill="#1c262c" opacity="0.75"/>
<rect x="784.58" y="550.46" width="1" height="11.5" fill="#1c262c" opacity="0.75"/>
<text transform="translate(646.9 558.88) scale(0.0880 0.1)" font-size="75" text-anchor="end" fill="#5a5a5a" font-weight="700" stroke="#5a5a5a" stroke-width="2.2" letter-spacing="2">John3</text>
<rect x="654.6" y="566.12" width="111.84" height="11.5" fill="#94DCF8"/>
<rect x="766.44" y="566.12" width="37.28" height="11.5" fill="#B5E6A2"/>
<rect x="804.02" y="566.52" width="74.26" height="10.8" fill="#E8E8E8" stroke="#c2c2c2" stroke-width="0.8"/>
<rect x="654.6" y="566.02" width="149.12" height="1.15" fill="#1c2c38" opacity="0.6"/>
<rect x="654.6" y="576.62" width="149.12" height="1.15" fill="#1c2c38" opacity="0.6"/>
<rect x="765.94" y="566.12" width="1" height="11.5" fill="#1c262c" opacity="0.75"/>
<text transform="translate(646.9 574.53) scale(0.0880 0.1)" font-size="75" text-anchor="end" fill="#5a5a5a" font-weight="700" stroke="#5a5a5a" stroke-width="2.2" letter-spacing="2">John4</text>
<rect x="654.9" y="582.18" width="223.38" height="10.8" fill="#E8E8E8" stroke="#c2c2c2" stroke-width="0.8"/>
</g>
</g>
</svg>
</body>
</html>
